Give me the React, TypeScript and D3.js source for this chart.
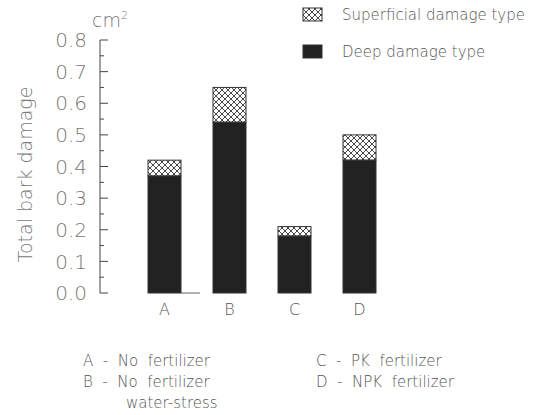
import React from "react";
import { scaleLinear, scalePoint, range } from "d3";

// bark damage per treatment, cm2
const categories = ["A", "B", "C", "D"];
const deepValues = [0.37, 0.54, 0.18, 0.42];
const totalValues = [0.42, 0.65, 0.21, 0.5];
const yTicks = [0, 0.1, 0.2, 0.3, 0.4, 0.5, 0.6, 0.7, 0.8];
const minorTicks = range(0.05, 0.8, 0.1);
const notesLeft = ["A  -  No  fertilizer", "B  -  No  fertilizer"];
const notesRight = ["C  -  PK  fertilizer", "D  -  NPK  fertilizer"];

const W = 534;
const H = 415;
const textCol = "#555";
const font = "'DejaVu Sans', sans-serif";

const App = () => {
  const y = scaleLinear().domain([0, 0.8]).range([293, 40]);
  const x = scalePoint<string>().domain(categories).range([164.5, 359.5]);
  const bw = 33;
  const axisX = 100;
  const noteStyle = { whiteSpace: "pre" as const };

  return (
    <svg width={W} height={H} style={{ position: "absolute", left: 0, top: 0, background: "#fff" }}>
      <defs>
        <pattern id="hatch" width="6" height="6" patternUnits="userSpaceOnUse">
          <rect width="6" height="6" fill="#fff" />
          <path d="M0,0 L6,6 M6,0 L0,6 M-1,5 L1,7 M5,-1 L7,1" stroke="#333" strokeWidth="0.9" />
        </pattern>
      </defs>

      {/* y axis */}
      <line x1={axisX} x2={axisX} y1={y(0.8)} y2={y(0)} stroke="#444" strokeWidth={1} />
      {yTicks.map((t) => (
        <g key={t}>
          <line x1={axisX} x2={axisX + 8} y1={y(t)} y2={y(t)} stroke="#444" />
          <text
            x={87}
            y={y(t)}
            dy="0.36em"
            textAnchor="end"
            fontFamily={font}
            fontSize={20}
            fontWeight={200}
            fill="#777"
          >
            {t.toFixed(1)}
          </text>
        </g>
      ))}
      {minorTicks.map((t) => (
        <line key={t} x1={axisX} x2={axisX + 4} y1={y(t)} y2={y(t)} stroke="#444" />
      ))}
      <text x={92} y={27} fontFamily={font} fontSize={19} fontWeight={200} fill="#777">
        cm<tspan fontSize={11} dy={-8}>2</tspan>
      </text>
      <text
        transform={`translate(32,${(y(0) + y(0.8)) / 2 + 8}) rotate(-90)`}
        textAnchor="middle"
        fontFamily={font}
        fontSize={19}
        fontWeight={200}
        fill="#777"
      >
        Total bark damage
      </text>

      {/* short baseline piece after A */}
      <line x1={x("A")! + bw / 2} x2={200} y1={y(0)} y2={y(0)} stroke="#666" />

      {/* bars */}
      {categories.map((c, i) => (
        <g key={c}>
          <rect
            x={x(c)! - bw / 2}
            y={y(totalValues[i])}
            width={bw}
            height={y(deepValues[i]) - y(totalValues[i])}
            fill="url(#hatch)"
            stroke="#333"
            strokeWidth={1}
          />
          <rect
            x={x(c)! - bw / 2}
            y={y(deepValues[i])}
            width={bw}
            height={y(0) - y(deepValues[i])}
            fill="#222"
            stroke="#333"
            strokeWidth={1}
          />
          <text x={x(c)} y={315} textAnchor="middle" fontFamily={font} fontSize={16} fontWeight={200} fill={textCol}>
            {c}
          </text>
        </g>
      ))}

      {/* legend */}
      <rect x={303} y={8} width={19} height={13} fill="url(#hatch)" stroke="#333" />
      <text x={342} y={20} fontFamily={font} fontSize={15} fontWeight={200} fill={textCol}>
        Superficial damage type
      </text>
      <rect x={303} y={45} width={19} height={13} fill="#222" stroke="#333" />
      <text x={342} y={57} fontFamily={font} fontSize={15} fontWeight={200} fill={textCol}>
        Deep damage type
      </text>

      {/* treatment notes */}
      {notesLeft.map((n, i) => (
        <text key={n + i} x={83} y={366 + i * 21} style={noteStyle} fontFamily={font} fontSize={15} fontWeight={200} fill={textCol}>
          {n}
        </text>
      ))}
      <text x={126} y={408} fontFamily={font} fontSize={15} fontWeight={200} fill={textCol}>
        water-stress
      </text>
      {notesRight.map((n, i) => (
        <text key={n} x={316} y={366 + i * 21} style={noteStyle} fontFamily={font} fontSize={15} fontWeight={200} fill={textCol}>
          {n}
        </text>
      ))}
    </svg>
  );
};

export default App;
